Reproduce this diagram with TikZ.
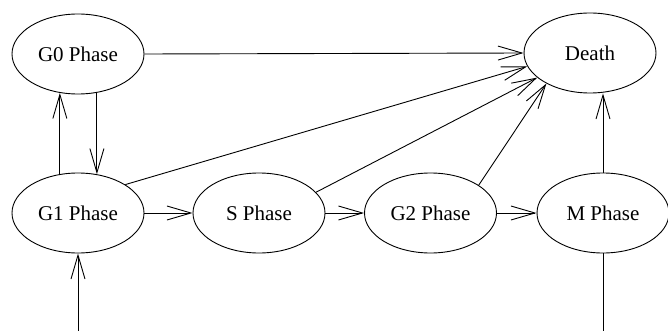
\documentclass[tikz,border=0pt]{standalone}
\usepackage{fontspec}
\setmainfont{Liberation Serif}
\usetikzlibrary{shapes.geometric,arrows.meta}
\begin{document}
\begin{tikzpicture}[x=1pt,y=-1pt,line width=0.9pt,
  phase/.style={draw,ellipse,minimum width=132pt,minimum height=80pt,inner sep=0pt,font=\fontsize{21}{25}\selectfont},
  arr/.style={-{Straight Barb[length=24pt,width=14pt,line width=0.9pt]}}]
\useasboundingbox (0,0) rectangle (668,331);
\node[phase] (G0) at (78,54) {G0 Phase};
\node[phase] (D) at (590,53) {Death};
\node[phase] (G1) at (78,213) {G1 Phase};
\node[phase] (S) at (259,213) {S Phase};
\node[phase] (G2) at (430.5,213) {G2 Phase};
\node[phase] (M) at (603,213) {M Phase};
\coordinate (inG1) at (78,331);
\coordinate (outM) at (603,331);
\draw[arr] (G0.east) -- (D.west);
\draw[arr] (G1.115) -- (G0.245);
\draw[arr] (G0.296) -- (G1.64);
\draw[arr] (G1.31) -- (D.192);
\draw[arr] (S.20) -- (D.205);
\draw[arr] (G2.30) -- (D.215);
\draw[arr] (G1.east) -- (S.west);
\draw[arr] (S.east) -- (G2.west);
\draw[arr] (G2.east) -- (M.west);
\draw[arr] (M.north) -- (M.north |- D.south);
\draw[arr] (inG1) -- (G1.south);
\draw (M.south) -- (outM);
\end{tikzpicture}
\end{document}
